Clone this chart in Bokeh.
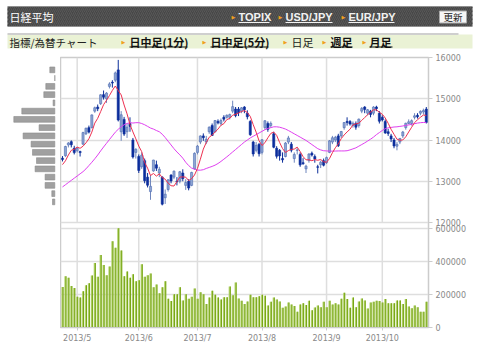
from bokeh.plotting import figure
from bokeh.models import Range1d, FixedTicker, ColumnDataSource, BasicTickFormatter
from bokeh.layouts import column, row
from bokeh.embed import file_html
from bokeh.resources import INLINE
from bokeh.core.properties import value

# ---------------- data ----------------
month_labels = ["2013/5", "2013/6", "2013/7", "2013/8", "2013/9", "2013/10"]
month_first_index = [5, 26, 46, 68, 90, 109]
price_ticks = [12000, 13000, 14000, 15000, 16000]
volume_ticks = [0, 200000, 400000, 600000]

opens = [13560, 13620, 13880, 13960, 13800, 13740, 13720, 13900, 14150, 14300,
         14300, 14700, 14800, 14880, 15100, 15000, 15300, 15400, 15450, 15700,
         14200, 14500, 14200, 14400, 14000, 13700, 13600, 13350, 13500, 13100,
         12750, 13250, 13400, 13200, 13100, 12600, 12800, 13150, 13100, 13000,
         13000, 13200, 12900, 13000, 12900, 13300, 13700, 13950, 14100, 13950,
         14200, 14350, 14200, 14450, 14400, 14550, 14550, 14550, 14700, 14750,
         14750, 14700, 14800, 14650, 14450, 13950, 13750, 13900, 13700, 14300,
         14400, 14350, 14150, 13800, 13750, 13550, 13600, 13950, 13900, 13550,
         13750, 13650, 13450, 13300, 13500, 13680, 13600, 13350, 13400, 13500,
         13450, 13700, 13950, 14000, 14100, 14100, 14300, 14450, 14450, 14350,
         14400, 14350, 14700, 14800, 14650, 14700, 14650, 14800, 14650, 14550,
         14450, 14200, 14100, 14000, 13850, 13950, 14100, 14300, 14400, 14400,
         14550, 14600, 14650, 14680, 14750]
highs = [13610, 13860, 13950, 13990, 13860, 13830, 13740, 14200, 14300, 14350,
         14620, 14810, 14860, 15110, 15200, 15160, 15400, 15450, 15660, 15942,
         14700, 14560, 14400, 14550, 14050, 13800, 13650, 13700, 13550, 13200,
         13150, 13520, 13500, 13350, 13120, 12800, 13050, 13170, 13260, 13100,
         13250, 13290, 13050, 13050, 13230, 13700, 13880, 14110, 14160, 14100,
         14330, 14400, 14480, 14500, 14520, 14600, 14620, 14640, 14953, 14800,
         14800, 14800, 14820, 14720, 14480, 13980, 13950, 13920, 14020, 14480,
         14450, 14450, 14200, 13850, 13780, 13700, 13950, 14100, 13950, 13700,
         13800, 13700, 13560, 13400, 13680, 13720, 13650, 13400, 13500, 13550,
         13600, 14000, 14100, 14100, 14150, 14220, 14430, 14550, 14480, 14450,
         14450, 14520, 14800, 14820, 14750, 14730, 14820, 14830, 14700, 14600,
         14500, 14270, 14150, 14050, 13950, 14050, 14220, 14420, 14500, 14500,
         14650, 14650, 14720, 14760, 14800]
lows = [13480, 13590, 13820, 13820, 13650, 13700, 13600, 13880, 14120, 14160,
        14280, 14660, 14700, 14850, 14980, 14900, 15250, 15270, 15400, 14450,
        13980, 14100, 14050, 14200, 13550, 13550, 13200, 13300, 12950, 12850,
        12550, 13230, 13250, 13100, 12415, 12450, 12750, 12950, 13050, 12900,
        12950, 13000, 12790, 12780, 12880, 13280, 13650, 13900, 13980, 13900,
        14150, 14100, 14180, 14380, 14350, 14450, 14520, 14500, 14650, 14550,
        14580, 14650, 14650, 14500, 14100, 13600, 13700, 13600, 13650, 14250,
        14200, 14300, 13800, 13550, 13500, 13450, 13580, 13900, 13700, 13450,
        13650, 13350, 13400, 13200, 13450, 13600, 13450, 13190, 13320, 13360,
        13420, 13680, 13900, 13950, 13830, 14050, 14250, 14350, 14350, 14300,
        14250, 14300, 14650, 14650, 14600, 14550, 14600, 14700, 14400, 14450,
        14150, 14100, 13950, 13800, 13750, 13900, 14050, 14250, 14380, 14350,
        14500, 14520, 14600, 14620, 14400]
closes = [13529, 13843, 13926, 13884, 13694, 13799, 13694, 14180, 14285, 14191,
          14608, 14782, 14758, 15096, 15037, 15138, 15360, 15381, 15627, 14484,
          14612, 14143, 14311, 14326, 13589, 13775, 13262, 13634, 13014, 12904,
          12877, 13514, 13318, 13289, 12445, 12686, 13034, 13008, 13245, 12986,
          13230, 13063, 12970, 12835, 13214, 13677, 13852, 14099, 14055, 14018,
          14310, 14109, 14473, 14417, 14473, 14506, 14600, 14616, 14809, 14590,
          14659, 14779, 14732, 14563, 14130, 13662, 13870, 13668, 14006, 14467,
          14258, 14402, 13825, 13606, 13615, 13519, 13926, 14050, 13753, 13650,
          13758, 13397, 13425, 13366, 13660, 13636, 13542, 13338, 13460, 13389,
          13573, 13979, 14054, 14065, 13861, 14205, 14424, 14425, 14388, 14405,
          14311, 14506, 14766, 14742, 14733, 14620, 14799, 14760, 14456, 14485,
          14170, 14157, 14025, 13854, 13895, 14038, 14194, 14405, 14441, 14468,
          14586, 14562, 14694, 14713, 14426]
ma_short = [13403, 13495, 13636, 13750, 13775, 13829, 13799, 13850, 13930, 14030,
            14192, 14409, 14525, 14687, 14856, 14962, 15078, 15202, 15309, 15198,
            15093, 14849, 14635, 14375, 14196, 14029, 13853, 13717, 13455, 13318,
            13138, 13189, 13125, 13180, 13089, 13050, 12954, 12892, 12884, 12992,
            13101, 13106, 13099, 13017, 13062, 13152, 13310, 13535, 13779, 13940,
            14067, 14118, 14193, 14265, 14356, 14396, 14494, 14522, 14601, 14624,
            14655, 14691, 14714, 14665, 14573, 14373, 14191, 13979, 13867, 13935,
            14054, 14160, 14192, 14112, 13941, 13793, 13698, 13743, 13773, 13780,
            13827, 13722, 13597, 13519, 13521, 13497, 13526, 13508, 13527, 13473,
            13460, 13548, 13691, 13812, 13906, 14033, 14122, 14196, 14261, 14369,
            14391, 14407, 14475, 14546, 14612, 14673, 14732, 14731, 14674, 14624,
            14534, 14406, 14259, 14138, 14020, 13994, 14001, 14077, 14195, 14309,
            14419, 14492, 14550, 14605, 14596]
ma_long = [12862, 12915, 12968, 13021, 13074, 13127, 13180, 13233, 13300, 13380,
           13460, 13545, 13635, 13735, 13830, 13920, 14010, 14100, 14190, 14260,
           14320, 14370, 14400, 14420, 14411, 14420, 14420, 14400, 14370, 14330,
           14290, 14265, 14230, 14200, 14140, 14060, 13970, 13880, 13790, 13710,
           13640, 13560, 13460, 13380, 13320, 13294, 13270, 13268, 13280, 13310,
           13335, 13360, 13390, 13430, 13480, 13535, 13590, 13650, 13710, 13770,
           13830, 13890, 13950, 14000, 14050, 14090, 14130, 14170, 14210, 14250,
           14280, 14300, 14320, 14320, 14310, 14290, 14265, 14230, 14190, 14150,
           14110, 14070, 14030, 13990, 13940, 13890, 13840, 13790, 13760, 13740,
           13735, 13730, 13730, 13732, 13735, 13735, 13735, 13740, 13760, 13785,
           13810, 13850, 13890, 13930, 13975, 14020, 14070, 14130, 14180, 14230,
           14275, 14295, 14305, 14315, 14320, 14330, 14340, 14355, 14365, 14380,
           14395, 14410, 14420, 14425, 14425]
volumes = [246000, 311000, 301000, 252000, 240000, 186000, 182000, 219000, 256000, 268000,
           315000, 391000, 307000, 440000, 379000, 317000, 370000, 522000, 483000, 602000,
           467000, 311000, 340000, 301000, 323000, 280000, 287000, 383000, 307000, 317000,
           328000, 244000, 260000, 207000, 244000, 280000, 174000, 160000, 201000, 201000,
           244000, 164000, 201000, 174000, 186000, 236000, 174000, 213000, 201000, 143000,
           182000, 223000, 199000, 182000, 170000, 184000, 184000, 248000, 195000, 272000,
           176000, 162000, 143000, 158000, 199000, 184000, 184000, 190000, 199000, 193000,
           133000, 156000, 182000, 170000, 158000, 119000, 127000, 152000, 139000, 131000,
           96000, 139000, 147000, 137000, 162000, 104000, 121000, 133000, 123000, 156000,
           123000, 162000, 139000, 147000, 139000, 174000, 211000, 172000, 119000, 182000,
           123000, 158000, 176000, 164000, 115000, 152000, 156000, 162000, 160000, 152000,
           172000, 147000, 147000, 147000, 164000, 164000, 143000, 172000, 127000, 117000,
           133000, 123000, 96000, 96000, 156000]
profile_price = [15700, 15500, 15300, 15100, 14900, 14700, 14500, 14300, 14100,
                 13900, 13700, 13500, 13300, 13100, 12900, 12700, 12500]
profile_volume = [5, 0, 9, 11, 1.7, 33, 41, 15.7, 31.7, 23.7, 22.3, 18.3, 19.7,
                  9.7, 9.7, 3, 2.3]

# ---------------- styles / layout ----------------
GRID = "#dedede"
OUTLINE = "#cccccc"
LABEL = "#888888"
JP = value("Noto Sans CJK JP")
MAIN_PX, GAP_PX, VOL_PX = 165, 6, 99       # heights of price panel, gap, volume panel


def no_align(fig):
    try:
        fig.frame_align = False
    except Exception:
        pass


idx = list(range(len(closes)))
up = [c >= o for o, c in zip(opens, closes)]
src = dict(x=idx, o=opens, h=highs, l=lows, c=closes,
           top=[max(o, c) for o, c in zip(opens, closes)],
           bot=[min(o, c) for o, c in zip(opens, closes)])
src_up = ColumnDataSource({k: [v for v, u in zip(vals, up) if u] for k, vals in src.items()})
src_dn = ColumnDataSource({k: [v for v, u in zip(vals, up) if not u] for k, vals in src.items()})

# ---------------- header ----------------
hdr = figure(width=480, height=50, x_range=Range1d(0, 480), y_range=Range1d(50, 0),
             output_backend="svg", toolbar_location=None, min_border=0,
             x_axis_location=None, y_axis_location=None, outline_line_color=None)
no_align(hdr)
hdr.grid.visible = False
hdr.quad(left=7, right=472, top=6, bottom=26, fill_color="#474747", line_color=None,
         hatch_pattern="/", hatch_color="#585858", hatch_scale=4, hatch_weight=1)
hdr.text(x=[9], y=[16.5], text=["日経平均"], text_font=JP, text_font_size="11px",
         text_color="white", text_baseline="middle")
hdr.text(x=[231, 278, 341], y=[16.5] * 3, text=["▶"] * 3, text_font=value("DejaVu Sans"),
         text_font_size="5px", text_color="#f0a020", text_baseline="middle")
hdr.text(x=[238, 285, 348], y=[16.5] * 3, text=["TOPIX", "USD/JPY", "EUR/JPY"],
         text_font=value("Liberation Sans"), text_font_style="bold", text_font_size="11px",
         text_color="#f2f2f2", text_baseline="middle")
hdr.segment(x0=[238, 285, 348], x1=[269, 332, 394], y0=[22] * 3, y1=[22] * 3,
            line_color="#f2f2f2", line_width=1)
hdr.quad(left=439, right=466, top=10.5, bottom=22.5, fill_color="#f6f6f6", line_color="#aaaaaa")
hdr.text(x=[452.5], y=[16.8], text=["更新"], text_font=JP, text_font_size="9.5px",
         text_color="#222222", text_align="center", text_baseline="middle")
hdr.quad(left=7, right=472, top=34, bottom=48, fill_color="#eaf2d5", line_color=None)
hdr.segment(x0=[7], x1=[458], y0=[33.5], y1=[33.5], line_color="#cfcfcf", line_width=2)
hdr.text(x=[9], y=[41.5], text=["指標/為替チャート"], text_font=JP, text_font_size="10.5px",
         text_color="#222222", text_baseline="middle")
hdr.text(x=[121, 202, 283, 322, 362], y=[41.5] * 5, text=["▶"] * 5,
         text_font=value("DejaVu Sans"), text_font_size="5px", text_color="#f0a020",
         text_baseline="middle")
hdr.text(x=[129, 210, 330, 369], y=[41.5] * 4,
         text=["日中足(1分)", "日中足(5分)", "週足", "月足"], text_font=JP,
         text_font_style="bold", text_font_size="11px", text_color="#111111",
         text_baseline="middle")
hdr.text(x=[291], y=[41.5], text=["日足"], text_font=JP, text_font_size="11px",
         text_color="#222222", text_baseline="middle")
hdr.segment(x0=[129, 210, 330, 369], x1=[187, 268, 352, 392], y0=[46.5] * 4, y1=[46.5] * 4,
            line_color="#111111", line_width=1)

# ---------------- combined price + volume chart ----------------
p_lo, p_hi = price_ticks[0], price_ticks[-1]
per_px = (p_hi - p_lo) / MAIN_PX
y_start = p_lo - (GAP_PX + VOL_PX) * per_px
vol_top = volume_ticks[-1]
vol_end = vol_top * (MAIN_PX + GAP_PX + VOL_PX) / VOL_PX

xr = Range1d(-0.68, 124.75)
yr = Range1d(y_start, p_hi)
chart = figure(width=420, height=304, x_range=xr, y_range=yr, output_backend="svg",
               toolbar_location=None, x_axis_location="below", y_axis_location="right",
               min_border_left=0, min_border_right=52, min_border_top=7, min_border_bottom=27,
               outline_line_color=OUTLINE, outline_line_width=1.5)
no_align(chart)
chart.extra_y_ranges = {"vol": Range1d(0, vol_end)}

# volume ticks expressed on the price scale so one right axis carries both label sets
vol_as_price = [y_start + v / vol_end * (p_hi - y_start) for v in volume_ticks]
all_ticks = price_ticks + vol_as_price
labels = {float(t): str(t) for t in price_ticks}
labels.update({t: str(v) for t, v in zip(vol_as_price, volume_ticks)})

chart.xgrid.visible = False
chart.ygrid.ticker = FixedTicker(ticks=all_ticks)
chart.ygrid.grid_line_color = GRID
chart.ygrid.grid_line_width = 1.5
# vertical month grid lines, separately in each panel
chart.segment(x0=month_first_index, x1=month_first_index, y0=[p_lo] * 6, y1=[p_hi] * 6,
              line_color=GRID, line_width=1.5, level="underlay")
chart.segment(x0=month_first_index, x1=month_first_index, y0=[0] * 6, y1=[vol_top] * 6,
              line_color=GRID, line_width=1.5, level="underlay", y_range_name="vol")

ry = chart.yaxis[0]
ry.ticker = FixedTicker(ticks=all_ticks)
ry.formatter = BasicTickFormatter(use_scientific=False)
ry.major_label_overrides = labels
bx = chart.xaxis[0]
bx.ticker = FixedTicker(ticks=month_first_index)
bx.major_label_overrides = {i: lab for i, lab in zip(month_first_index, month_labels)}
for a in (bx, ry):
    a.axis_line_color = OUTLINE
    a.major_tick_line_color = OUTLINE
    a.major_tick_out = 3
    a.major_tick_in = 0
    a.minor_tick_line_color = None
    a.major_label_standoff = 3
    a.major_label_text_font = "DejaVu Sans"
    a.major_label_text_font_size = "8px"
    a.major_label_text_color = LABEL
ry.major_tick_out = 4

# candles
chart.segment(x0="x", y0="l", x1="x", y1="h", source=src_up, line_color="#6f86bd", line_width=1)
chart.segment(x0="x", y0="l", x1="x", y1="h", source=src_dn, line_color="#0c2f9a", line_width=1)
chart.vbar(x="x", top="top", bottom="bot", width=0.72, source=src_up,
           fill_color="#8ea5d2", line_color="#4f6db3", line_width=0.6)
chart.vbar(x="x", top="top", bottom="bot", width=0.72, source=src_dn,
           fill_color="#0b2d9c", line_color="#0b2d9c", line_width=0.6)
chart.line(idx, ma_long, line_color="#e040f0", line_width=1)
chart.line(idx, ma_short, line_color="#ee3050", line_width=1)

# volume bars
chart.vbar(x=idx, top=volumes, bottom=0, width=0.72, fill_color="#b4d36e", line_color=None,
           y_range_name="vol")
chart.vbar(x=[i + 0.18 for i in idx], top=volumes, bottom=0, width=0.36,
           fill_color="#78a616", line_color=None, y_range_name="vol")

# ---------------- price profile ----------------
prof = figure(width=60, height=304, x_range=Range1d(54.3, -5.7), y_range=yr,
              output_backend="svg", toolbar_location=None, x_axis_location=None,
              y_axis_location=None, min_border_left=0, min_border_right=0,
              min_border_top=7, min_border_bottom=27, outline_line_color=None)
no_align(prof)
prof.grid.visible = False
prof.hbar(y=profile_price, left=0, right=profile_volume, height=140,
          fill_color="#a0a0a0", line_color="#8c8c8c", line_width=0.6)

layout = column(hdr, row(prof, chart))
open("out.html", "w").write(file_html(layout, INLINE))
